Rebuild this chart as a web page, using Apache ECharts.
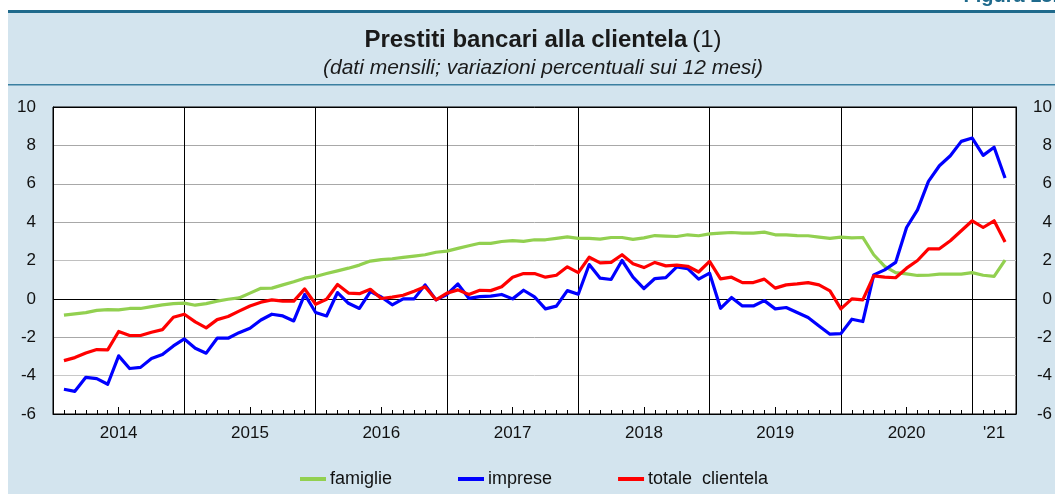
<!DOCTYPE html>
<html>
<head>
<meta charset="utf-8">
<script src="https://cdn.jsdelivr.net/npm/echarts@6/dist/echarts.min.js"></script>
<style>
  html, body { margin: 0; padding: 0; background: #ffffff; }
  #chart { width: 1055px; height: 494px; }
</style>
</head>
<body>
<div id="chart"></div>
<script>
// Monthly points, end of month: Dec 2013 (empty) ... Apr 2021 (empty)
const months = [];
for (let y = 2013; y <= 2021; y++) {
  for (let m = 1; m <= 12; m++) {
    const key = y + '-' + String(m).padStart(2, '0');
    if (key >= '2013-12' && key <= '2021-04') months.push(key);
  }
}

// Year labels and the month under which each one is written
const yearLabelMonths = ['2014-06', '2015-06', '2016-06', '2017-06', '2018-06', '2019-06', '2020-06', '2021-02'];
const yearLabels = ['2014', '2015', '2016', '2017', '2018', '2019', '2020', "'21"];

// Percentage changes over 12 months, Jan 2014 - Mar 2021
const famiglie = [
  -0.85, -0.78, -0.72, -0.60, -0.56, -0.57, -0.50, -0.50, -0.40, -0.31, -0.25, -0.22,
  -0.33, -0.25, -0.12, -0.02, 0.05, 0.30, 0.55, 0.56, 0.73, 0.89, 1.08, 1.17,
  1.32, 1.46, 1.60, 1.76, 1.97, 2.05, 2.09, 2.16, 2.23, 2.30, 2.43, 2.49,
  2.63, 2.77, 2.90, 2.89, 2.99, 3.04, 3.00, 3.08, 3.08, 3.15, 3.23, 3.15,
  3.15, 3.11, 3.20, 3.20, 3.10, 3.18, 3.30, 3.27, 3.25, 3.34, 3.29, 3.39,
  3.43, 3.46, 3.43, 3.43, 3.48, 3.34, 3.34, 3.30, 3.29, 3.22, 3.15, 3.22,
  3.18, 3.20, 2.30, 1.69, 1.37, 1.30, 1.22, 1.23, 1.29, 1.29, 1.29, 1.37,
  1.23, 1.17, 2.02
];
const imprese = [
  -4.71, -4.82, -4.09, -4.16, -4.45, -2.97, -3.63, -3.57, -3.11, -2.90, -2.45, -2.09,
  -2.57, -2.83, -2.05, -2.05, -1.76, -1.53, -1.10, -0.80, -0.89, -1.15, 0.23, -0.71,
  -0.89, 0.33, -0.23, -0.50, 0.38, 0.10, -0.31, 0.00, 0.00, 0.73, -0.05, 0.23,
  0.78, 0.03, 0.12, 0.14, 0.23, 0.00, 0.45, 0.10, -0.52, -0.38, 0.43, 0.24,
  1.79, 1.08, 1.01, 2.00, 1.13, 0.54, 1.06, 1.11, 1.67, 1.58, 1.03, 1.34,
  -0.49, 0.07, -0.37, -0.37, -0.09, -0.52, -0.45, -0.71, -0.97, -1.41, -1.84, -1.81,
  -1.06, -1.18, 1.25, 1.51, 1.90, 3.72, 4.64, 6.12, 6.94, 7.46, 8.21, 8.38,
  7.48, 7.90, 6.30
];
const totaleClientela = [
  -3.22, -3.06, -2.82, -2.64, -2.66, -1.70, -1.91, -1.91, -1.74, -1.60, -0.96, -0.80,
  -1.20, -1.51, -1.08, -0.92, -0.64, -0.37, -0.17, -0.05, -0.12, -0.12, 0.52, -0.28,
  -0.02, 0.75, 0.30, 0.27, 0.50, 0.02, 0.09, 0.19, 0.40, 0.63, -0.05, 0.30,
  0.47, 0.23, 0.45, 0.43, 0.63, 1.13, 1.32, 1.32, 1.13, 1.23, 1.67, 1.37,
  2.17, 1.88, 1.90, 2.30, 1.83, 1.63, 1.90, 1.72, 1.76, 1.70, 1.40, 1.95,
  1.04, 1.13, 0.85, 0.85, 1.03, 0.56, 0.73, 0.78, 0.85, 0.73, 0.42, -0.52,
  0.00, -0.05, 1.20, 1.13, 1.10, 1.60, 2.00, 2.61, 2.61, 3.03, 3.55, 4.07,
  3.72, 4.07, 2.96
];

const seriesNames = ['famiglie', 'imprese', 'totale  clientela'];
const seriesColors = ['#92d050', '#0000ff', '#ff0000'];
const seriesValues = [famiglie, imprese, totaleClientela];

const yMin = -6, yMax = 10, yStep = 2;

const FONT = '"Liberation Sans", Arial, Helvetica, sans-serif';
const PANEL = '#d3e4ee';
const TEAL = '#1f6a8c';

// first category (Dec 2013) carries no value
const withOffset = arr => [null].concat(arr);

const isYearLine = idx => idx > 0 && idx < months.length - 1 && idx % 12 === 0;
const isMidYear = idx => idx % 12 === 6;

const chart = echarts.init(document.getElementById('chart'), null, { renderer: 'canvas' });

chart.setOption({
  animation: false,
  backgroundColor: '#ffffff',
  textStyle: { fontFamily: FONT },
  graphic: [
    // light blue panel with teal rules
    { type: 'rect', z: -10, shape: { x: 8, y: 10, width: 1047, height: 484 }, style: { fill: PANEL } },
    { type: 'rect', z: -9, shape: { x: 8, y: 10, width: 1047, height: 3 }, style: { fill: TEAL } },
    { type: 'rect', z: -9, shape: { x: 8, y: 84, width: 1047, height: 1.5 }, style: { fill: '#3a7fa0' } },
    { type: 'text', z: -8, style: { x: 1058, y: 6, text: 'Figura 13.', fill: TEAL, font: 'bold 20px ' + FONT, textAlign: 'right', textVerticalAlign: 'bottom' } }
  ],
  title: [
    {
      left: 538, top: 23, textAlign: 'center',
      text: '{b|Prestiti bancari alla clientela} {n|(1)}',
      textStyle: {
        rich: {
          b: { fontFamily: FONT, fontSize: 24, fontWeight: 'bold', color: '#1a1a1a' },
          n: { fontFamily: FONT, fontSize: 24, fontWeight: 'normal', color: '#1a1a1a' }
        }
      }
    },
    {
      left: 538, top: 53, textAlign: 'center',
      text: '(dati mensili; variazioni percentuali sui 12 mesi)',
      textStyle: { fontFamily: FONT, fontSize: 21, fontStyle: 'italic', fontWeight: 'normal', color: '#1a1a1a' }
    }
  ],
  legend: {
    left: 300, top: 470, padding: 0,
    itemWidth: 26, itemHeight: 4, itemGap: 66,
    icon: 'rect',
    data: seriesNames,
    textStyle: { fontFamily: FONT, fontSize: 18, color: '#111', padding: [0, 0, 0, -1] }
  },
  grid: {
    left: 53, right: 37, top: 107, bottom: 80,
    show: true, backgroundColor: '#ffffff', borderColor: '#000000', borderWidth: 1
  },
  xAxis: [
    {
      type: 'category', data: months, boundaryGap: false, position: 'bottom',
      axisLine: { onZero: false, lineStyle: { color: '#000', width: 1 } },
      axisTick: { show: true, inside: true, length: 4, interval: 0, lineStyle: { color: '#000' } },
      axisLabel: {
        interval: (idx, val) => yearLabelMonths.indexOf(val) >= 0,
        formatter: val => {
          const i = yearLabelMonths.indexOf(val);
          return i >= 0 ? yearLabels[i] : '';
        },
        margin: 11, fontFamily: FONT, fontSize: 17, color: '#111'
      },
      splitLine: { show: true, interval: idx => isYearLine(idx), lineStyle: { color: '#000', width: 1 } }
    },
    {
      // longer marks at mid-year
      type: 'category', data: months, boundaryGap: false, position: 'bottom', offset: 0,
      axisLine: { show: false, onZero: false },
      axisTick: { show: true, inside: true, length: 7, interval: idx => isMidYear(idx), lineStyle: { color: '#000' } },
      axisLabel: { show: false },
      splitLine: { show: false }
    }
  ],
  yAxis: [
    {
      type: 'value', min: yMin, max: yMax, interval: yStep, position: 'left',
      axisLine: { show: true, lineStyle: { color: '#000' } },
      axisTick: { show: false },
      axisLabel: { margin: 17, fontFamily: FONT, fontSize: 17, color: '#111' },
      splitLine: {
        show: true,
        lineStyle: { color: ['#000', '#c8c8c8', '#a8a8a8', '#000', '#c0c0c0', '#a8a8a8', '#a8a8a8', '#a8a8a8', '#000'], width: 1 }
      }
    },
    {
      type: 'value', min: yMin, max: yMax, interval: yStep, position: 'right',
      axisLine: { show: true, lineStyle: { color: '#000' } },
      axisTick: { show: false },
      axisLabel: { margin: 36, align: 'right', fontFamily: FONT, fontSize: 17, color: '#111' },
      splitLine: { show: false }
    }
  ],
  series: seriesNames.map((name, i) => ({
    name: name,
    type: 'line',
    xAxisIndex: 0,
    yAxisIndex: 0,
    data: withOffset(seriesValues[i]),
    showSymbol: false,
    symbol: 'none',
    connectNulls: false,
    lineStyle: { color: seriesColors[i], width: 3.2, join: 'round' },
    itemStyle: { color: seriesColors[i] },
    z: 2 + i
  }))
});
</script>
</body>
</html>
